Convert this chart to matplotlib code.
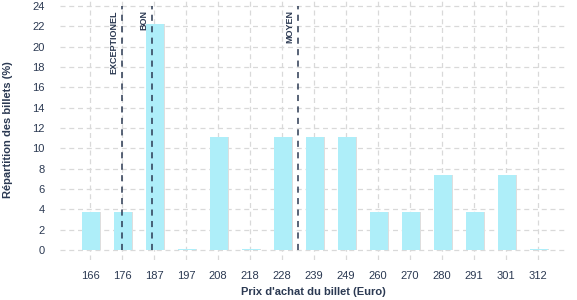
import numpy as np
import matplotlib.pyplot as plt

plt.rcParams['font.family'] = ['Liberation Sans', 'DejaVu Sans']

prices = ['166', '176', '187', '197', '208', '218', '228', '239', '249', '260', '270', '280', '291', '301', '312']
share = [3.7, 3.7, 22.2, 0.1, 11.1, 0.1, 11.1, 11.1, 11.1, 3.7, 3.7, 7.4, 3.7, 7.4, 0.1]

# reference lines (position on the category axis) and their labels
ref_pos = [1.0, 1.94, 6.5]
ref_labels = ['EXCEPTIONEL', 'BON', 'MOYEN']

txt = '#2b3952'
bar_col = '#aeeef9'

fig = plt.figure(figsize=(5.77, 3.0), dpi=100)
ax = fig.add_axes([60 / 577, 40 / 300, 507 / 577, 260 / 300])

x = np.arange(len(prices))
ax.bar(x + 0.06, share, width=0.56, color='#dedede', zorder=2)
ax.bar(x + 0.03, share, width=0.56, color=bar_col, zorder=3)

for pos, lab in zip(ref_pos, ref_labels):
    ax.plot([pos, pos], [0, 24], color=txt, lw=1.1, ls=(0, (4, 3.5)), zorder=4)
    ax.text(pos - 0.12, 23.6, lab, rotation=90, ha='right', va='top',
            fontsize=6.5, fontweight='bold', color=txt, zorder=5)

ax.set_xlim(-0.94, 14.9)
ax.set_ylim(-1, 24.6)
ax.set_xticks(x)
ax.set_xticklabels(prices)
ax.set_yticks(np.arange(0, 25, 2))
ax.tick_params(length=0, labelsize=8, colors=txt)
ax.tick_params(axis='x', pad=8)
ax.tick_params(axis='y', pad=11)
ax.grid(True, color='#d9d9d9', ls=(0, (4, 3)), lw=0.9, zorder=0)
ax.set_axisbelow(True)
for s in ax.spines.values():
    s.set_visible(False)

ax.set_xlabel("Prix d'achat du billet (Euro)", fontsize=8, fontweight='bold', color=txt, labelpad=4)
ax.set_ylabel('Répartition des billets (%)', fontsize=8, fontweight='bold', color=txt, labelpad=14)

fig.savefig('out.png', dpi=100)
